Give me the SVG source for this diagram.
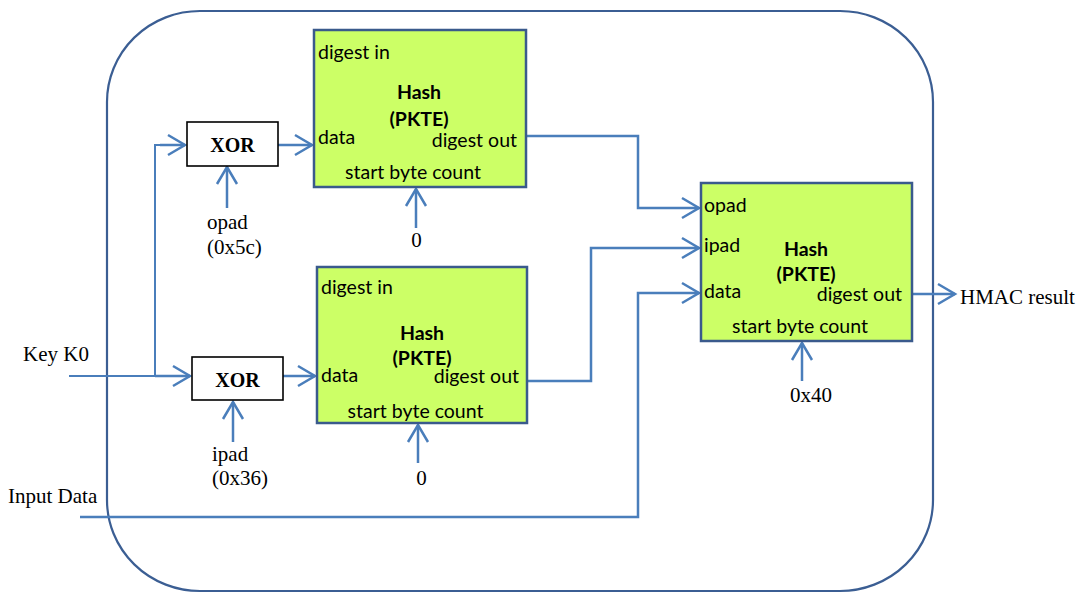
<svg xmlns="http://www.w3.org/2000/svg" width="1079" height="593" viewBox="0 0 1079 593">
<defs>
<marker id="arr" markerUnits="userSpaceOnUse" markerWidth="24" markerHeight="24" viewBox="-20 -12 22 24" refX="0" refY="0" orient="auto">
<path d="M -17 -10 L 0 0 L -17 10" fill="none" stroke="#4a7ebb" stroke-width="2.5"/>
</marker>
<style>
.frame{fill:none;stroke:#3b5e93;stroke-width:2.2}
.hash{fill:#ccff66;stroke:#3a5a8c;stroke-width:2.5}
.xor{fill:#ffffff;stroke:#000000;stroke-width:1.6}
.wire{fill:none;stroke:#4a7ebb;stroke-width:2}
.arrow{fill:none;stroke:#4a7ebb;stroke-width:2.5;marker-end:url(#arr)}
.s{font-family:Lato,"Liberation Sans",sans-serif;font-size:19.5px;fill:#000}
.b{font-family:Lato,"Liberation Sans",sans-serif;font-size:19.5px;font-weight:bold;fill:#000;text-anchor:middle}
.t{font-family:"Liberation Serif",serif;font-size:21px;fill:#000}
.tb{font-family:"Liberation Serif",serif;font-size:20px;font-weight:bold;fill:#000;text-anchor:middle}
</style>
</defs>
<rect class="frame" x="107" y="11" width="826" height="580" rx="93" ry="91"/>
<g id="connectors">
<path class="wire" d="M 69 376 L 155 376 L 155 145 L 170 145"/>
<path class="arrow" d="M 155 376 L 190 376"/>
<path class="arrow" d="M 160 145 L 185 145"/>
<path class="arrow" d="M 278 145 L 312 145"/>
<path class="arrow" d="M 283 376 L 315 376"/>
<path class="arrow" d="M 227 208 L 227 167"/>
<path class="arrow" d="M 233 442 L 233 402"/>
<path class="arrow" d="M 416 228 L 416 189"/>
<path class="arrow" d="M 418 463 L 418 425"/>
<path class="arrow" d="M 526 136 L 638 136 L 638 208 L 699 208"/>
<path class="arrow" d="M 527 381 L 591 381 L 591 248 L 699 248"/>
<path class="arrow" d="M 80 517 L 638 517 L 638 293 L 699 293"/>
<path class="arrow" d="M 912 294 L 955 294"/>
<path class="arrow" d="M 802 381 L 802 343"/>
</g>
<g id="xor1"><rect class="xor" x="187" y="122" width="91" height="44"/><text class="tb" x="232.5" y="152">XOR</text></g>
<g id="xor2"><rect class="xor" x="192" y="357" width="91" height="43"/><text class="tb" x="237.5" y="387">XOR</text></g>
<g id="hash1">
<rect class="hash" x="314" y="30" width="212" height="157"/>
<text class="s" x="318" y="59">digest in</text>
<text class="b" x="419" y="99">Hash</text>
<text class="b" x="419" y="126">(PKTE)</text>
<text class="s" x="318" y="144">data</text>
<text class="s" x="517" y="146.5" text-anchor="end">digest out</text>
<text class="s" x="413" y="179" text-anchor="middle">start byte count</text>
</g>
<g id="hash2">
<rect class="hash" x="317" y="267" width="210" height="156"/>
<text class="s" x="321" y="294">digest in</text>
<text class="b" x="422" y="340">Hash</text>
<text class="b" x="422" y="365">(PKTE)</text>
<text class="s" x="321" y="382">data</text>
<text class="s" x="519" y="383" text-anchor="end">digest out</text>
<text class="s" x="415.5" y="417.5" text-anchor="middle">start byte count</text>
</g>
<g id="hash3">
<rect class="hash" x="701" y="183" width="211" height="158"/>
<text class="s" x="704" y="211.5">opad</text>
<text class="s" x="704" y="251.5">ipad</text>
<text class="b" x="806" y="256">Hash</text>
<text class="b" x="806" y="280.5">(PKTE)</text>
<text class="s" x="704" y="298.3">data</text>
<text class="s" x="902" y="301" text-anchor="end">digest out</text>
<text class="s" x="800" y="333.3" text-anchor="middle">start byte count</text>
</g>
<g id="labels">
<text class="t" x="23" y="361">Key K0</text>
<text class="t" x="8" y="503">Input Data</text>
<text class="t" x="207" y="229">opad</text>
<text class="t" x="207" y="254">(0x5c)</text>
<text class="t" x="212" y="461">ipad</text>
<text class="t" x="212" y="485">(0x36)</text>
<text class="t" x="416.5" y="247" text-anchor="middle">0</text>
<text class="t" x="421.5" y="485" text-anchor="middle">0</text>
<text class="t" x="811" y="401.5" text-anchor="middle">0x40</text>
<text class="t" x="960" y="303.5">HMAC result</text>
</g>
</svg>
